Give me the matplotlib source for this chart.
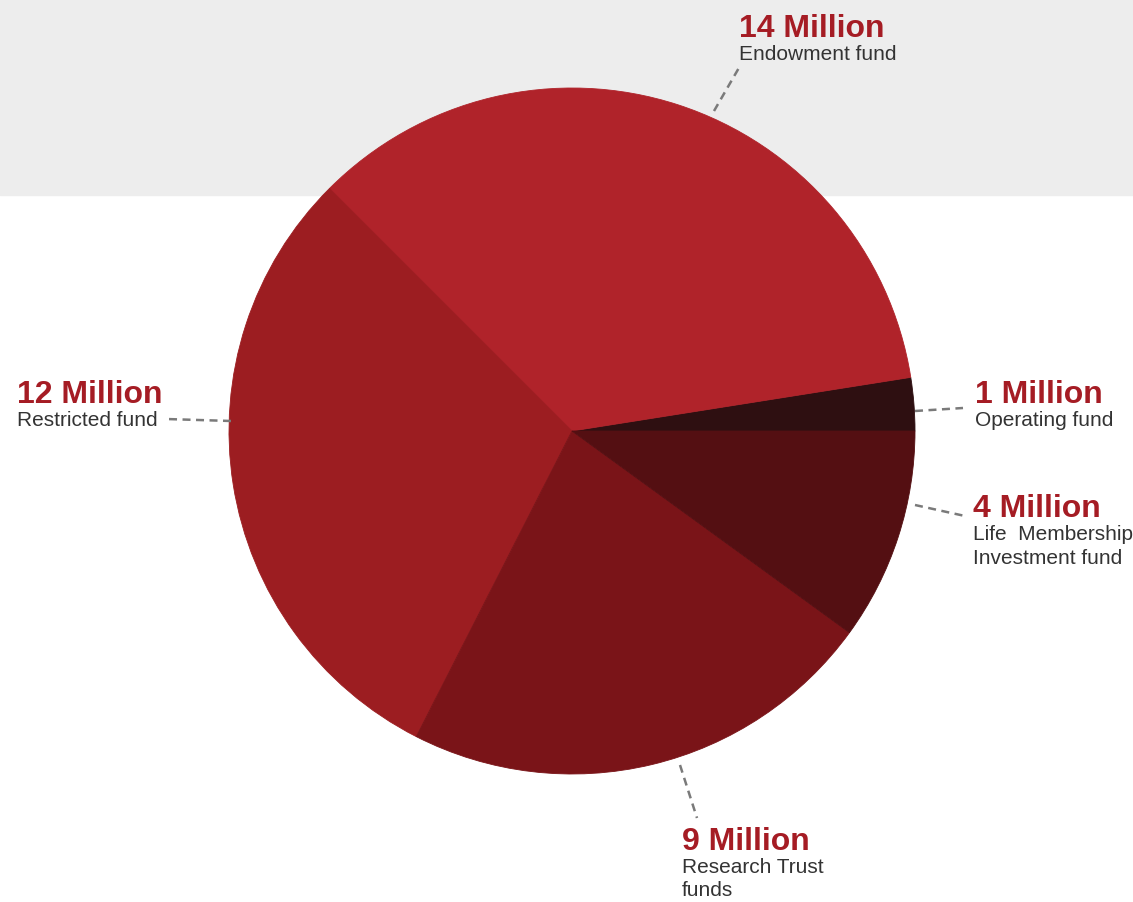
import matplotlib.pyplot as plt
from matplotlib.patches import Rectangle

# Fund sizes in millions, counter-clockwise from 3 o'clock
funds = ["Operating fund", "Endowment fund", "Restricted fund",
         "Research Trust\nfunds", "Life  Membership\nInvestment fund"]
values = [1, 14, 12, 9, 4]
colors = ["#2e0f11", "#b0232a", "#9c1d21", "#7a1418", "#540f12"]

W, H = 1133, 902
fig = plt.figure(figsize=(W / 100, H / 100), dpi=100)
ax = fig.add_axes([0, 0, 1, 1])

def py(y):
    # pixel row (from top) -> data y
    return H - y

# grey band at the top
ax.add_patch(Rectangle((0, py(195)), W, 195, color="#ededed", zorder=0))

wedges, _ = ax.pie(values, colors=colors, startangle=0, counterclock=True,
                   center=(572, py(431)), radius=343, frame=True,
                   wedgeprops=dict(linewidth=0.6))
for w, c in zip(wedges, colors):
    w.set_edgecolor(c)
ax.set_xlim(0, W)
ax.set_ylim(0, H)
ax.set_aspect("equal")
ax.axis("off")

# label layout: (text x, header baseline, leader start, leader end)
layout = [
    (975, 403, (915, 411), (963, 408)),
    (739, 37, (714, 111), (740, 66)),
    (17, 403, (231, 421), (166, 419)),
    (682, 850, (680, 765), (697, 818)),
    (973, 517, (915, 505), (965, 516)),
]

for name, v, (tx, base, p0, p1) in zip(funds, values, layout):
    ax.plot([p0[0], p1[0]], [py(p0[1]), py(p1[1])], color="#7a7a7a",
            lw=1.8, ls=(0, (3.2, 2.2)), zorder=3)
    ax.text(tx, py(base), f"{v} Million", fontsize=23, fontweight="bold",
            family="Liberation Sans", color="#a51c24", va="baseline", ha="left")
    for i, line in enumerate(name.split("\n")):
        ax.text(tx, py(base + 23 + 23.5 * i), line, fontsize=15,
                family="Liberation Sans", color="#333333",
                va="baseline", ha="left")

fig.savefig("out.png", dpi=100)
